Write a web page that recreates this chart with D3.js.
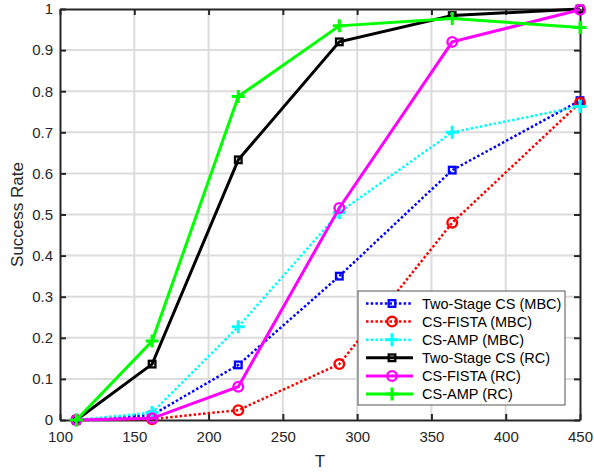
<!DOCTYPE html>
<html>
<head>
<meta charset="utf-8">
<script src="https://d3js.org/d3.v7.min.js"></script>
<style>
  html, body { margin: 0; padding: 0; background: #fff; }
  svg { display: block; font-family: Arial, "Liberation Sans", Helvetica, sans-serif; }
</style>
</head>
<body>
<svg id="chart" width="594" height="472"></svg>
<script>
// Measurement lengths T and the success rate of each recovery scheme
const tValues   = [111, 162, 220, 288, 364, 450];
const tsMBC     = [0, 0.012, 0.134, 0.350, 0.608, 0.777];
const fistaMBC  = [0, 0.002, 0.024, 0.136, 0.480, 0.772];
const ampMBC    = [0, 0.018, 0.227, 0.505, 0.700, 0.763];
const tsRC      = [0, 0.136, 0.633, 0.920, 0.984, 1.000];
const fistaRC   = [0, 0.004, 0.081, 0.516, 0.920, 0.998];
const ampRC     = [0, 0.192, 0.787, 0.959, 0.977, 0.955];

const seriesNames = ["Two-Stage CS (MBC)", "CS-FISTA (MBC)", "CS-AMP (MBC)",
                     "Two-Stage CS (RC)", "CS-FISTA (RC)", "CS-AMP (RC)"];
const xTicks = [100, 150, 200, 250, 300, 350, 400, 450];
const yTicks = [0, 0.1, 0.2, 0.3, 0.4, 0.5, 0.6, 0.7, 0.8, 0.9, 1];

const series = [
  { name: seriesNames[0], values: tsMBC,    color: "#0000ff", dotted: true,  marker: "square" },
  { name: seriesNames[1], values: fistaMBC, color: "#ff0000", dotted: true,  marker: "circle" },
  { name: seriesNames[2], values: ampMBC,   color: "#00ffff", dotted: true,  marker: "plus" },
  { name: seriesNames[3], values: tsRC,     color: "#000000", dotted: false, marker: "square" },
  { name: seriesNames[4], values: fistaRC,  color: "#ff00ff", dotted: false, marker: "circle" },
  { name: seriesNames[5], values: ampRC,    color: "#00ff00", dotted: false, marker: "plus" }
];

const svg = d3.select("#chart");
const plotL = 60, plotR = 580, plotT = 9, plotB = 420;

const x = d3.scaleLinear().domain([100, 450]).range([plotL, plotR]);
const y = d3.scaleLinear().domain([0, 1]).range([plotB, plotT]);

const axisColor = "#262626";
const gridColor = "#dcdcdc";

// grid
const grid = svg.append("g");
grid.selectAll("line.gx").data(xTicks.slice(1, -1)).join("line")
  .attr("x1", d => x(d)).attr("x2", d => x(d))
  .attr("y1", plotT).attr("y2", plotB)
  .attr("stroke", gridColor).attr("stroke-width", 2);
grid.selectAll("line.gy").data(yTicks.slice(1, -1)).join("line")
  .attr("x1", plotL).attr("x2", plotR)
  .attr("y1", d => y(d)).attr("y2", d => y(d))
  .attr("stroke", gridColor).attr("stroke-width", 2);

// axes with inward ticks on all four sides
const tickLen = 6;
function styleAxis(g) {
  g.selectAll("path.domain").attr("stroke", axisColor).attr("stroke-width", 2);
  g.selectAll(".tick line").attr("stroke", axisColor).attr("stroke-width", 2);
  g.selectAll(".tick text").attr("fill", "#262626").style("font-size", "15px")
    .style("font-family", "Arial, 'Liberation Sans', sans-serif");
}
const fmtY = d => d === 0 ? "0" : d === 1 ? "1" : d3.format(".1f")(d);

svg.append("g").attr("transform", `translate(0,${plotB})`)
  .call(d3.axisBottom(x).tickValues(xTicks).tickSizeInner(-tickLen).tickSizeOuter(0).tickPadding(11).tickFormat(d3.format("d")))
  .call(styleAxis);
svg.append("g").attr("transform", `translate(0,${plotT})`)
  .call(d3.axisTop(x).tickValues(xTicks).tickSizeInner(-tickLen).tickSizeOuter(0).tickFormat(""))
  .call(styleAxis);
svg.append("g").attr("transform", `translate(${plotL},0)`)
  .call(d3.axisLeft(y).tickValues(yTicks).tickSizeInner(-tickLen).tickSizeOuter(0).tickPadding(7).tickFormat(fmtY))
  .call(styleAxis);
svg.append("g").attr("transform", `translate(${plotR},0)`)
  .call(d3.axisRight(y).tickValues(yTicks).tickSizeInner(-tickLen).tickSizeOuter(0).tickFormat(""))
  .call(styleAxis);

// axis titles
svg.append("text").attr("x", (plotL + plotR) / 2).attr("y", 467)
  .attr("text-anchor", "middle").attr("fill", "#262626").style("font-size", "17px").text("T");
svg.append("text").attr("transform", `translate(23,${(plotT + plotB) / 2}) rotate(-90)`)
  .attr("text-anchor", "middle").attr("fill", "#262626").style("font-size", "17px").text("Success Rate");

// marker drawing
function drawMarker(g, type, cx, cy, color) {
  if (type === "square") {
    g.append("rect").attr("x", cx - 3.3).attr("y", cy - 3.3).attr("width", 6.6).attr("height", 6.6)
      .attr("fill", "none").attr("stroke", color).attr("stroke-width", 2.3);
  } else if (type === "circle") {
    g.append("circle").attr("cx", cx).attr("cy", cy).attr("r", 4.8)
      .attr("fill", "none").attr("stroke", color).attr("stroke-width", 2.4);
  } else {
    g.append("path").attr("d", `M${cx - 6.5},${cy}H${cx + 6.5}M${cx},${cy - 6.5}V${cy + 6.5}`)
      .attr("stroke", color).attr("stroke-width", 3).attr("fill", "none");
  }
}

const line = d3.line().x((d, i) => x(tValues[i])).y(d => y(d));
const plot = svg.append("g");
series.forEach(s => {
  const g = plot.append("g");
  g.append("path").datum(s.values).attr("d", line)
    .attr("fill", "none").attr("stroke", s.color)
    .attr("stroke-width", s.dotted ? 2.5 : 3)
    .attr("stroke-dasharray", s.dotted ? "2.5,2.2" : null);
  s.values.forEach((v, i) => drawMarker(g, s.marker, x(tValues[i]), y(v), s.color));
});

// legend
const lg = svg.append("g");
const lgX = 358, lgY = 291, lgW = 207, lgH = 114;
lg.append("rect").attr("x", lgX).attr("y", lgY).attr("width", lgW).attr("height", lgH)
  .attr("fill", "#fff").attr("stroke", "#555").attr("stroke-width", 1);
series.forEach((s, i) => {
  const cy = lgY + 12.5 + i * 18.1;
  lg.append("line").attr("x1", lgX + 8).attr("x2", lgX + 55).attr("y1", cy).attr("y2", cy)
    .attr("stroke", s.color).attr("stroke-width", s.dotted ? 2.5 : 3)
    .attr("stroke-dasharray", s.dotted ? "2.5,2.2" : null);
  drawMarker(lg, s.marker, lgX + 34, cy, s.color);
  lg.append("text").attr("x", lgX + 64).attr("y", cy + 5).attr("fill", "#000")
    .style("font-size", "14.5px").text(s.name);
});
</script>
</body>
</html>
